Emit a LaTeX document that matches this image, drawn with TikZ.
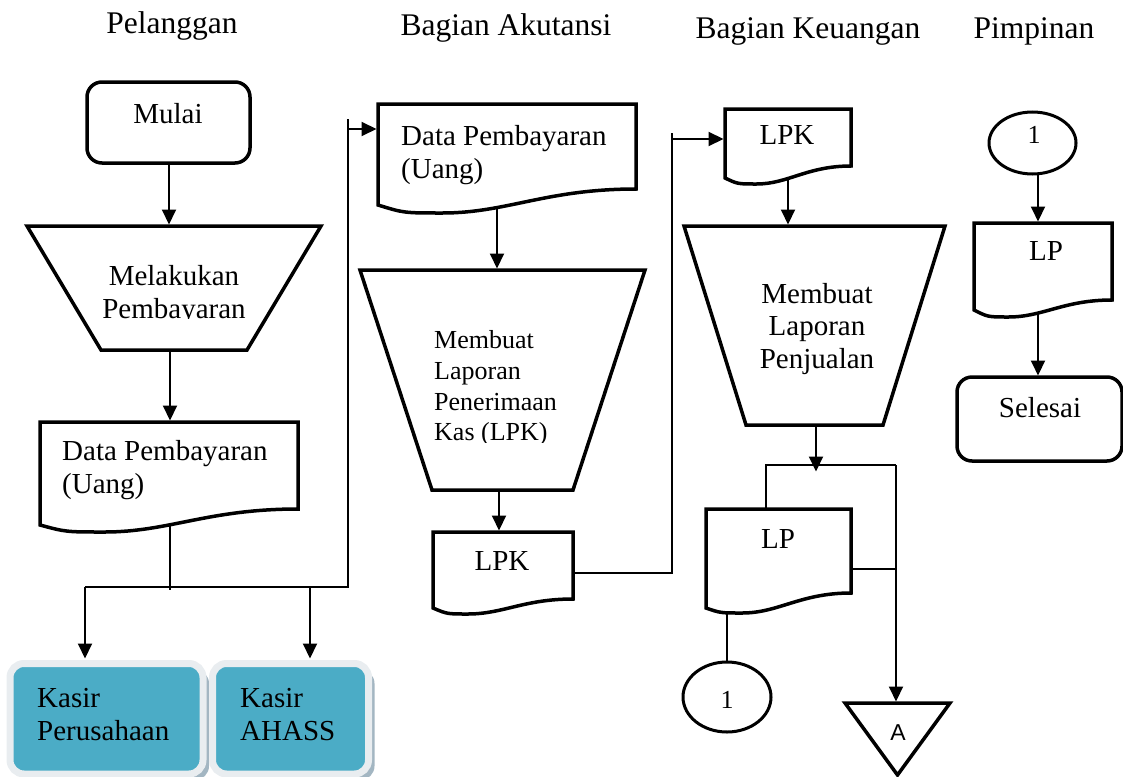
\documentclass[tikz,border=0pt]{standalone}
\usepackage{fontspec}
\setmainfont{Liberation Serif}
\newfontfamily\labelsans{Liberation Sans}
\usetikzlibrary{arrows.meta,calc,shadows,shapes.geometric}

\definecolor{kasirfill}{HTML}{4BACC6}
\definecolor{kasirrim}{HTML}{E9EDF0}
\definecolor{kasirshade}{HTML}{A3B6C2}

% document symbol with a wavy bottom edge: name, right rise, left rise
\newcommand\docpath[3]{%
  \draw[shapeline] (#1.north west) -- (#1.north east) -- ([yshift=#2]#1.south east)
    .. controls ($(#1.south east)!0.35!(#1.south west)+(0pt,#2)$) and ($(#1.south east)!0.5!(#1.south west)$)
    .. ($(#1.south west)!0.25!(#1.south east)$)
    .. controls ($(#1.south west)!0.1!(#1.south east)$) .. ([yshift=#3]#1.south west) -- cycle;}
% manual operation symbol (inverted trapezoid): name, bottom inset
\newcommand\trappath[2]{%
  \draw[shapeline] (#1.north west) -- (#1.north east) -- ([xshift=-#2]#1.south east)
    -- ([xshift=#2]#1.south west) -- cycle;}

\begin{document}
\begin{tikzpicture}[x=1pt,y=-1pt,
  zone/.style={inner sep=0pt, outer sep=0pt},
  shapeline/.style={line width=3.5pt, fill=white},
  term/.style={shapeline, rounded corners=15pt},
  wire/.style={line width=2pt},
  arr/.style={wire, -{Triangle[length=15pt,width=14pt]}, shorten >=1.5pt},
  txt/.style={inner sep=0pt, anchor=base, font=\fontsize{29}{33}\selectfont},
  txtl/.style={txt, anchor=base west},
  small/.style={txt, anchor=base west, font=\fontsize{26}{31}\selectfont},
  digit/.style={txt, font=\fontsize{26}{31}\selectfont},
  head/.style={inner sep=0pt, anchor=base, font=\fontsize{31.5}{36}\selectfont},
  kasir/.style={rounded corners=14pt, fill=kasirfill, draw=kasirrim, line width=7pt,
    drop shadow={shadow xshift=6pt, shadow yshift=-6pt, fill=kasirshade, opacity=1}}]
\useasboundingbox (0,0) rectangle (1123,776);

% ---- outlines of the flowchart symbols ----
\node[zone, minimum width=163, minimum height=81] (mulai) at (168.5,122.5) {};
\node[zone, minimum width=294, minimum height=124] (trapA) at (174,288) {};
\node[zone, minimum width=258, minimum height=110] (doc1) at (169,477) {};
\node[zone, minimum width=258, minimum height=109] (dA) at (507,158.5) {};
\node[zone, minimum width=285, minimum height=220] (trapB) at (502.5,380) {};
\node[zone, minimum width=140, minimum height=82] (lpkA) at (503,573) {};
\node[zone, minimum width=126, minimum height=75] (lpkK) at (788,146.5) {};
\node[zone, minimum width=261, minimum height=199] (trapC) at (814.5,325.5) {};
\node[zone, minimum width=145, minimum height=104] (lpdoc) at (778.5,561) {};
\node[zone, ellipse, minimum width=88, minimum height=70] (circ1b) at (727,697) {};
\node[zone, minimum width=105, minimum height=72] (triA) at (897.5,739) {};
\node[zone, ellipse, minimum width=87, minimum height=62] (circ1t) at (1032.5,143) {};
\node[zone, minimum width=138, minimum height=94] (lpP) at (1043,270) {};
\node[zone, minimum width=165, minimum height=84] (sel) at (1039.5,419) {};

% cashier boxes
\node[kasir, minimum width=193, minimum height=110.5] (kp) at (106.5,718.75) {};
\node[kasir, minimum width=156, minimum height=110.5] (ka) at (290.5,718.75) {};

% ---- routing points ----
\coordinate (xm) at (169,0);
\coordinate (xl) at (170,0);
\coordinate (j1) at (170,590);
\coordinate (hl) at (85,587);
\coordinate (hr) at (348,587);
\coordinate (kin) at (310,587);
\coordinate (up1) at (348,119);
\coordinate (in1) at (348,129);
\coordinate (xa) at (497,0);
\coordinate (xb) at (499,0);
\coordinate (c2) at (672,139);
\coordinate (c2t) at (672,133);
\coordinate (tip) at (816,473);
\coordinate (s1) at (766,465);
\coordinate (s2) at (896,465);
\coordinate (s3) at (896,569);
\coordinate (xp) at (1038,0);

% ---- connectors ----
\draw[arr] (mulai.center -| xm) -- (xm |- trapA.north);
\draw[arr] (trapA.center -| xl) -- (xl |- doc1.north);
\draw[wire] (doc1.center -| j1) -- (j1);
\draw[wire] (hl) -- (hr) -- (up1);
\draw[arr] (hl) -- (hl |- kp.north);
\draw[arr] (kin) -- (kin |- ka.north);
\draw[arr] (in1) -- (in1 -| dA.west);

\draw[arr] (dA.center -| xa) -- (xa |- trapB.north);
\draw[arr] (trapB.center -| xb) -- (xb |- lpkA.north);
\draw[wire] (lpkA.center) -- (lpkA.center -| c2) -- (c2t);
\draw[arr] (c2) -- (c2 -| lpkK.west);

\draw[arr] (lpkK.center) -- (lpkK.center |- trapC.north);
\draw[arr] (trapC.center -| tip) -- (tip);
\draw[wire] (lpdoc.center -| s1) -- (s1) -- (s2);
\draw[arr] (s2) -- (s2 |- triA.north);
\draw[wire] (lpdoc.center |- s3) -- (s3);
\draw[wire] (circ1b.center |- lpdoc.center) -- (circ1b.north);

\draw[arr] (circ1t.center -| xp) -- (xp |- lpP.north);
\draw[arr] (lpP.center -| xp) -- (xp |- sel.north);

% ---- symbols ----
\draw[term] (mulai.north west) rectangle (mulai.south east);
\trappath{trapA}{74pt}
\docpath{doc1}{23pt}{7pt}
\docpath{dA}{24pt}{8pt}
\trappath{trapB}{72pt}
\docpath{lpkA}{15pt}{6pt}
\docpath{lpkK}{18pt}{6pt}
\trappath{trapC}{62pt}
\docpath{lpdoc}{20pt}{5pt}
\draw[line width=3pt, fill=white] (circ1b.center) ellipse [x radius=44, y radius=35];
\draw[shapeline] (triA.north west) -- (triA.north east) -- (triA.south) -- cycle;
\draw[line width=3pt, fill=white] (circ1t.center) ellipse [x radius=43.5, y radius=31];
\docpath{lpP}{17pt}{7pt}
\draw[term] (sel.north west) rectangle (sel.south east);

% ---- column headings ----
\node[head] (hp) at (172,34) {Pelanggan};
\node[head] (ha) at (506,36) {Bagian Akutansi};
\node[head] (hk) at (808,38) {Bagian Keuangan};
\node[head] (hpi) at (1034,38) {Pimpinan};

% ---- texts ----
\node[txt] (t-mulai) at (168,123) {Mulai};
\begin{scope}
  \clip (27,226) rectangle (321,318.5);
  \node[txt] (t-mel1) at (174,285) {Melakukan};
  \node[txt] (t-mel2) at (174,318) {Pembayaran};
\end{scope}
\node[txtl] (t-d1a) at (62,460) {Data Pembayaran};
\node[txtl] (t-d1b) at (62,493) {(Uang)};
\node[txtl] (t-kp1) at (37,707) {Kasir};
\node[txtl] (t-kp2) at (37,740) {Perusahaan};
\node[txtl] (t-ka1) at (240,707) {Kasir};
\node[txtl] (t-ka2) at (240,740) {AHASS};

\node[txtl] (t-da1) at (401,145) {Data Pembayaran};
\node[txtl] (t-da2) at (401,178) {(Uang)};
\begin{scope}
  \clip (360,270) rectangle (645,442);
  \node[small] (t-b1) at (434,348) {Membuat};
  \node[small] (t-b2) at (434,379) {Laporan};
  \node[small] (t-b3) at (434,410) {Penerimaan};
  \node[small] (t-b4) at (434,440) {Kas (LPK)};
\end{scope}
\node[txt] (t-lpka) at (502,570) {LPK};

\node[txt] (t-lpkk) at (787,144) {LPK};
\node[txt] (t-c1) at (817,303) {Membuat};
\node[txt] (t-c2) at (817,335) {Laporan};
\node[txt] (t-c3) at (817,368) {Penjualan};
\node[txt] (t-lpk) at (778,548) {LP};
\node[digit] (t-one-b) at (727,708) {1};
\node[inner sep=0pt, anchor=base, font=\labelsans\fontsize{23}{27}\selectfont] (t-a) at (898,740) {A};

\node[digit] (t-one-t) at (1034,143) {1};
\node[txt] (t-lpp) at (1046,260) {LP};
\node[txt] (t-sel) at (1040,417) {Selesai};
\end{tikzpicture}
\end{document}
